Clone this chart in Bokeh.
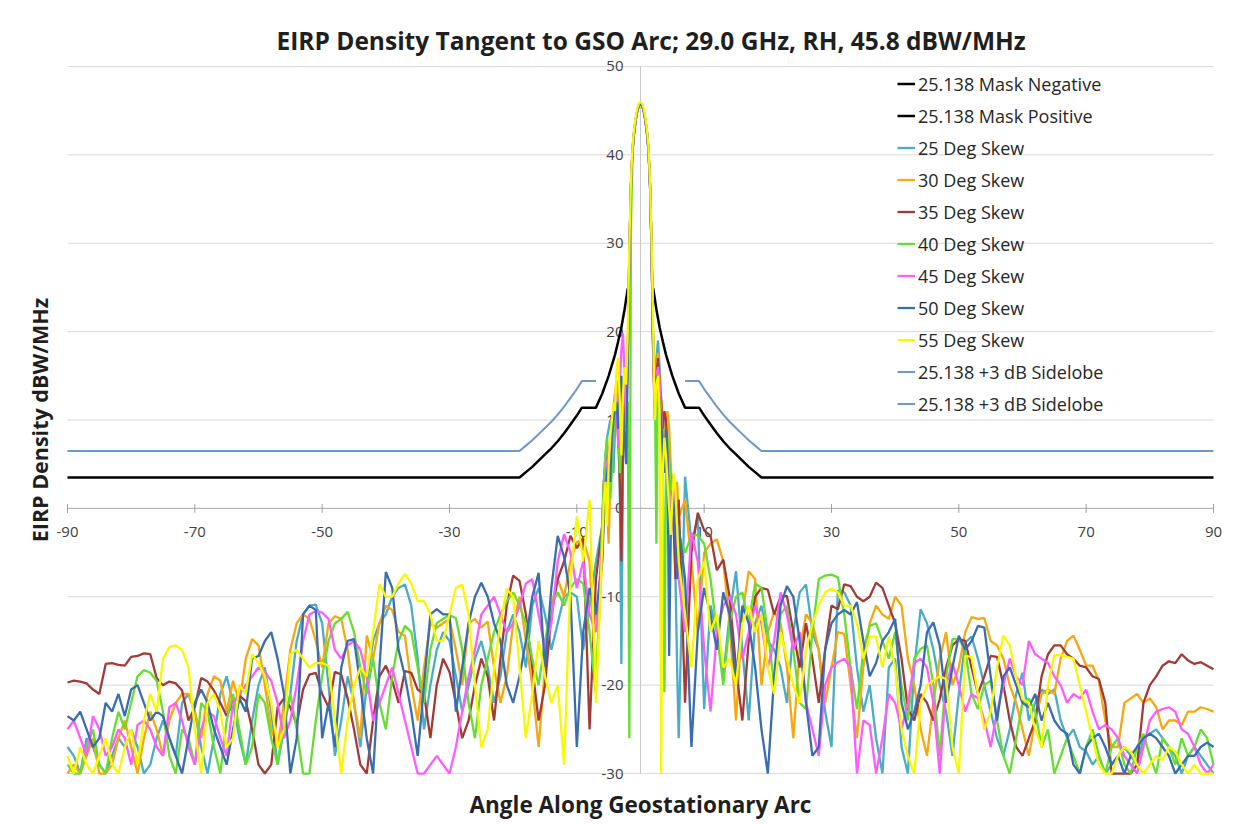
import numpy as np
from bokeh.plotting import figure
from bokeh.models import Legend, LegendItem, FixedTicker, Range1d
from bokeh.embed import file_html
from bokeh.resources import INLINE
from bokeh.core.properties import value

TITLE = "EIRP Density Tangent to GSO Arc; 29.0 GHz, RH, 45.8 dBW/MHz"
X_LABEL = "Angle Along Geostationary Arc"
Y_LABEL = "EIRP Density dBW/MHz"
X_MIN, X_MAX = -90, 90
Y_MIN, Y_MAX = -30, 50
X_TICKS = [-90, -70, -50, -30, -10, 10, 30, 50, 70, 90]
Y_TICKS = [-30, -20, -10, 0, 10, 20, 30, 40, 50]

# sample angles (deg)
ANGLES_LEFT = list(range(-90, -6))
ANGLES_CENTER = [-6 + 0.25 * i for i in range(49)]
ANGLES_RIGHT = list(range(7, 91))

# 25.138 mask (|angle|, dBW/MHz) and +3 dB sidelobe line
mask_abs_angle = [2, 2.5, 3, 3.5, 4, 5, 6, 7, 9.2, 10, 11, 12, 13, 14, 15, 16, 17, 18, 19, 90]
mask_level = [24.9, 22.5, 20.5, 18.9, 17.4, 15.0, 13.0, 11.4, 11.4, 10.5, 9.5, 8.5, 7.6,
              6.8, 6.1, 5.4, 4.7, 4.1, 3.5, 3.5]
side_abs_angle = [7, 9.2, 10, 11, 12, 13, 14, 15, 16, 17, 18, 19, 90]
side_level = [14.4, 14.4, 13.5, 12.5, 11.5, 10.6, 9.8, 9.1, 8.4, 7.7, 7.1, 6.5, 6.5]

# ---- measured skew traces (values at the -30 floor are where the trace leaves the chart) ----
skew25_left = [
    -27, -28, -30, -26, -27, -29, -30, -28, -26, -27,
    -25, -27, -30, -29, -26, -24, -26, -28, -22, -21,
    -23, -27, -30, -26, -21, -19, -22, -26, -29, -24,
    -20, -18, -23, -29, -25, -21, -15, -12, -11, -10.9,
    -13, -20, -28, -24, -19, -22, -27, -20, -15, -13,
    -12, -10, -9, -8.6, -11, -17, -25, -20, -16, -14,
    -15, -19, -23, -20, -17, -15, -18, -22, -19, -14,
    -12, -14, -18, -11, -9, -12, -16, -13, -10, -9.5,
    -10, -16, -11, -6]
skew25_center = [
    -2, 3, 6, 8, 9, 10, 8, 4,
    9, 14, 13, 2, -17.6, 5, 14, 12,
    17, 29, 36.5, 40.6, 42.6, 44, 45, 45.6,
    45.8,
    45.6, 45, 44, 42.6, 40.6, 36.5, 29, 18,
    12, 17, 19, 16, 12, 10, 8, 5,
    4, 2, 4, 3, 0, -8, -18, -26]
skew25_right = [
    3.6, -4, -1, -22.7, -11, -14, -19, -12, -7.1, -16,
    -24, -13, -11, -15, -16, -18, -22, -14, -9.5, -8.6,
    -14, -16, -23, -27, -9.3, -9.5, -11, -18, -23, -20,
    -26, -30, -18, -17, -27, -30, -18, -11.4, -13, -16,
    -20, -23, -28, -21, -15.2, -14.5, -17, -20, -23, -26,
    -28, -25, -21, -18.6, -24, -22, -20.5, -21, -20.5, -24,
    -26, -25, -27, -27.5, -29, -28, -30, -29, -28, -27,
    -28, -29, -26, -25.5, -25, -26, -27, -28, -30, -28,
    -27, -28, -29, -30]

skew30_left = [
    -30, -29, -30, -28, -26, -30, -30, -29, -26, -24,
    -27, -30, -26, -23, -25, -28, -24, -22, -21, -21,
    -23, -26, -21, -19, -19.5, -23, -19.5, -22, -17, -14.8,
    -15.5, -20, -25, -27, -22, -16, -13, -12, -12.5, -15,
    -18, -13, -12.2, -12.5, -16, -22, -26, -14.4, -17, -13,
    -11, -11.5, -14, -14.4, -20, -24, -18, -13, -13.5, -13,
    -12.5, -16, -20, -13, -12.5, -13.5, -12.8, -18, -22, -19,
    -13, -10, -15, -20, -27, -18, -11, -8, -10, -6,
    -3.8, -3.5, -6, -20]
skew30_center = [
    -5, -1, 2, 0, -4, 3, 7, 10,
    13, 14.5, 12, 6, -2, 9, 13, 11,
    17, 29, 36.5, 40.6, 42.6, 44, 45, 45.6,
    45.8,
    45.6, 45, 44, 42.6, 40.6, 36.5, 29, 17,
    12, 16, 17.6, 15, 12.5, 10, 8, 10,
    11, 9, 5, 2, -2, 1, 3, -1]
skew30_right = [
    1, -6, -14, -5, -4, -3.5, -6, -13, -24, -12,
    -7.1, -8, -20, -14, -11.7, -13, -18, -26, -16, -12,
    -13, -16, -22, -18, -14, -14.2, -20, -26, -18, -13,
    -11, -12, -12.5, -10, -11, -17, -20, -25, -28, -22,
    -17, -14, -20, -18, -14, -12.3, -12.5, -12.4, -15, -15.5,
    -17, -20, -22, -25, -28, -24, -21, -20.5, -21, -17,
    -15, -14.4, -16, -17.8, -17.8, -19.5, -24, -27, -27, -22,
    -21.5, -21, -22, -21.5, -22.5, -25, -24, -24, -24.5, -23,
    -23, -22.5, -22.7, -23]

skew35_left = [
    -19.7, -19.5, -19.6, -19.8, -20.5, -21.0, -17.6, -17.5, -17.7, -17.8,
    -16.8, -16.7, -16.4, -16.5, -19.2, -20.0, -19.6, -19.8, -20.6, -24.0,
    -22.5, -19.2, -19.6, -20.6, -22.0, -23.5, -22.0, -21.2, -21.8, -25.0,
    -29.0, -30.0, -29.0, -22.5, -21.5, -22.5, -24.5, -20.5, -18.8, -18.6,
    -21.0, -22.5, -18.5, -18.8, -21.5, -25.0, -29.0, -30.0, -24.0, -19.0,
    -17.8, -19.5, -22.0, -18.4, -18.6, -20.5, -21.0, -26.0, -20.0, -17.0,
    -18.5, -22.0, -26.0, -24.0, -20.0, -17.0, -19.0, -24.0, -17.0, -11.0,
    -7.6, -8.2, -12.0, -18.0, -24.0, -20.0, -12.0, -8.0, -6.0, -3.1,
    -4.5, -3.3, -25.0, -8.0]
skew35_center = [
    -2, 3, 5, 6, 4, 2, 6, 9,
    12, 11, 8, 3, -6, 8, 14, 10,
    18, 29, 36.5, 40.6, 42.6, 44, 45, 45.6,
    45.8,
    45.6, 45, 44, 42.6, 40.6, 36.5, 29, 17,
    10, 15, 17, 14, 12, 9, 11, 10,
    7, 5, 3, 1, -3, -8, -2, 1]
skew35_right = [
    -22, -5, -0.5, -2.5, -3.1, -7, -5.8, -10, -18, -24,
    -15, -10, -9, -9.2, -12, -10, -9.9, -14, -18, -13,
    -17, -22, -16, -11, -11.4, -8.6, -8.8, -10, -10.5, -10,
    -8.4, -9, -11, -13, -17, -22.7, -24, -21, -22, -24,
    -21.6, -18, -15.5, -14.8, -15, -18, -21, -19, -16.7, -16.8,
    -20, -24, -27, -28, -26, -24, -19, -16.5, -15.5, -15.5,
    -16.5, -17, -17.8, -18, -19, -19.3, -22, -30, -30, -30,
    -30, -29, -22, -20, -19, -17.8, -17.3, -17.5, -16.5, -17.2,
    -17.6, -17.4, -17.8, -18.2]

skew40_left = [
    -29, -30, -30, -27, -25, -29, -30, -26, -23, -25,
    -22, -19, -18.3, -18.6, -19.5, -23, -28, -30, -25, -26,
    -29, -22, -23, -27, -30, -24, -21, -25, -29, -27,
    -21, -22, -26, -29, -24, -21, -25, -30, -30, -24,
    -19, -15, -13, -12.5, -11.7, -14, -18, -21, -17, -22,
    -25, -19, -15, -13.3, -14, -18, -22, -16, -13, -12.5,
    -12.1, -12.4, -16, -22, -26, -20, -17, -14, -12, -10.5,
    -9.5, -11, -13, -17, -20, -15, -11, -9.5, -11, -9,
    -8, -8.5, -14, -21]
skew40_center = [
    -1, 3, 6, 8, 5, 1, 4, 8,
    11, 13, 10, 4, 9, 13, 15, 12,
    12, -26, 32, 40, 42.6, 44, 45, 45.6,
    45.8,
    45.6, 45, 44, 42.6, 40.6, 36.5, 29, 18,
    14, -4, 15, 12, 9, 5, -20.8, 4,
    8, 6, 3, 0, 2, -1, -6, -3]
skew40_right = [
    -5, -3.1, -3, -4, -8, -14, -20, -13, -10, -9.5,
    -13, -8.5, -9, -14, -20, -12, -11, -16, -22, -22.7,
    -14, -8, -7.6, -7.5, -7.8, -12, -18, -22.7, -16, -13.3,
    -13, -15, -17, -14, -20, -24, -17, -15.9, -15.5, -20,
    -28, -19, -14.8, -14.8, -16, -21, -22.7, -20, -19.5, -24,
    -28, -30, -26, -22, -21.5, -23, -27, -25, -30, -28,
    -26, -28, -30, -27, -25, -28, -30, -27, -26, -29,
    -30, -27, -25.5, -28, -30, -26, -27, -29, -26, -28,
    -27, -25, -26, -29]

skew45_left = [
    -25, -24, -26, -28, -23.5, -25, -28, -27, -25, -26,
    -29, -24.5, -24, -25, -27, -28, -22.5, -22, -24, -27,
    -29, -25, -23, -23.5, -26, -28, -22, -21, -20, -19,
    -18, -18.5, -19.5, -22, -26, -24, -20, -15, -12, -11.6,
    -11.8, -12.5, -16, -17, -15.5, -15, -16, -19, -24, -22,
    -20, -18, -21, -24, -27, -30, -30, -29, -28, -29,
    -30, -27, -23, -19, -16, -12, -11, -10, -12, -14,
    -13, -11, -8.5, -8, -12, -16, -13, -6, -2.9, -5,
    -9, -6, -12, -14]
skew45_center = [
    -4, 0, 3, 5, 7, 4, 8, 11,
    13, 11, 7, 14, 18, 19.8, 15, 9,
    17, 29, 36.5, 40.6, 42.6, 44, 45, 45.6,
    45.8,
    45.6, 45, 44, 42.6, 40.6, 36.5, 29, 17,
    13, 15, 16, 14, 11, 8, 5, 7,
    6, 2, -3, 0, 3, 1, -4, -8]
skew45_right = [
    -14, -2.7, -6, -16, -23, -14, -11, -10, -12, -17,
    -14, -11, -13, -18, -15, -9.5, -12, -16, -14, -22,
    -25, -28, -20, -18, -17.4, -17, -18, -30, -24, -24.5,
    -30, -26, -21, -22, -25, -22, -17.5, -17, -18, -22,
    -30, -20, -17.5, -20, -23, -21, -21.5, -24, -27, -23,
    -20, -17, -19, -20, -15, -16.5, -17, -17.5, -19, -20,
    -22, -21, -21.5, -20.5, -23, -25, -24.5, -25, -26, -28,
    -29, -30, -27, -24, -23, -22.7, -22.5, -23, -25, -25.5,
    -27, -29, -30, -29]

skew50_left = [
    -23.5, -24, -23, -25, -27, -26, -22, -23, -21, -23.5,
    -20.5, -20, -22, -24, -23, -23.5, -26, -28, -30, -26,
    -22, -20.5, -22, -25, -27, -29, -25, -21.5, -23, -17,
    -16.7, -15, -14, -17, -21, -30, -26, -12, -11, -11.5,
    -26, -22, -27, -18, -15, -14.8, -20, -26, -30, -18,
    -7.2, -9, -16, -19, -23, -28, -20, -12, -11.4, -12,
    -12, -23, -18, -13, -10, -8.4, -10, -13, -15, -20,
    -22, -19, -15, -10, -7.3, -18, -9, -3.1, -5.5, -10,
    -27, -14, -9, -12]
skew50_center = [
    -6, -1, 2, 4, 5.1, 3, 8, 10,
    11.5, 12, 9, 13, 15, 11, 8, 5,
    17, 29, 36.5, 40.6, 42.6, 44, 45, 45.6,
    45.8,
    45.6, 45, 44, 42.6, 40.6, 36.5, 29, 18,
    13, 15, 14, 12, 10, 7, 4, 9,
    6, -16.7, -3, 2, 0, -4, -8, -2]
skew50_right = [
    -8, -27, -14, -9, -12, -16, -9.5, -12, -20, -11,
    -13, -18, -25, -30, -19, -11, -8.8, -10, -15, -22,
    -28, -27, -16, -13, -12, -11.5, -12, -10.6, -15, -19,
    -17.5, -15, -14, -12.5, -22, -25, -23, -20, -14, -12.9,
    -15.5, -22, -18, -14.4, -16, -15, -13.3, -13.5, -19, -24,
    -19, -18, -20, -22, -22.5, -21, -24, -22, -24, -25,
    -25.5, -29, -30, -27, -26, -25.5, -27, -29, -28, -30,
    -28, -27, -26, -25.5, -26, -27, -28, -30, -29, -28,
    -28, -27, -26.5, -27]

skew55_left = [
    -28, -30, -27, -29, -30, -28, -26, -29, -30, -27,
    -25, -29, -24, -21, -23, -17, -15.7, -15.5, -16, -18,
    -25, -30, -22, -21, -23, -27, -26, -20, -21, -16.5,
    -17.5, -19, -22, -27, -25, -16.5, -16, -17, -18, -17.5,
    -17.5, -17.8, -24, -30, -24, -20, -18, -19, -14, -8.6,
    -10, -10, -8.5, -7.4, -8.5, -10.5, -10.5, -12, -15, -15,
    -12, -9, -8.6, -12, -20, -27, -25, -18, -13, -9.1,
    -10, -18, -26, -21, -15, -19, -22, -20, -29, -8,
    -0.9, -6, 1.0, -22]
skew55_center = [
    -4, 1, 3, -2, 5, 8, 10, 12,
    11, 16, 17, 12, 6, 13, 16, 14,
    20, 30, 37, 41, 43, 44.3, 45.3, 45.8,
    46,
    45.8, 45.3, 44.3, 43, 41, 37, 30, 20,
    10, 14, 15, 11, -30, 4, 8, 6,
    3, 0, -3, 1, 4, 2, -2, -6]
skew55_right = [
    -12, -18, -8, -6, -14, -12, -18, -17, -20, -13,
    -11, -14, -12, -18, -21, -14, -17, -20, -22, -16,
    -13, -11, -9.5, -9.1, -9.5, -11, -11, -13, -17, -14.5,
    -14.5, -18, -14.5, -18, -25, -28, -30, -22, -20, -19.5,
    -19, -19.3, -27, -30, -16.7, -16.8, -21, -25, -23, -18,
    -14.4, -15.5, -19, -21.6, -22, -25, -27, -20, -16.6, -16.6,
    -16.8, -17, -20, -23, -26, -29, -30, -30, -28, -27,
    -27.5, -29, -30, -29, -28, -28.5, -27, -27.5, -29, -30,
    -29, -30, -30, -30]

SKEWS = [
    ("25 Deg Skew", "#4BACC6", skew25_left, skew25_center, skew25_right),
    ("30 Deg Skew", "#F7A70F", skew30_left, skew30_center, skew30_right),
    ("35 Deg Skew", "#A23B37", skew35_left, skew35_center, skew35_right),
    ("40 Deg Skew", "#66DD33", skew40_left, skew40_center, skew40_right),
    ("45 Deg Skew", "#FF5CFF", skew45_left, skew45_center, skew45_right),
    ("50 Deg Skew", "#3A6DB0", skew50_left, skew50_center, skew50_right),
    ("55 Deg Skew", "#F8F800", skew55_left, skew55_center, skew55_right),
]

FONT = "Open Sans"
# plot area: 1146 x 709 px for the -90..90 / -30..50 box, plus a small margin
# inside the frame so that the edge tick labels are not clipped
PAD_PX_X, PAD_PX_Y = 14, 10
PAD_X = PAD_PX_X * (X_MAX - X_MIN) / 1146
PAD_Y = PAD_PX_Y * (Y_MAX - Y_MIN) / 709

p = figure(width=1236, height=822,
           x_range=Range1d(X_MIN - PAD_X, X_MAX + PAD_X),
           y_range=Range1d(Y_MIN - PAD_Y, Y_MAX + PAD_Y),
           output_backend="svg", toolbar_location=None,
           min_border_left=53, min_border_right=9, min_border_top=56, min_border_bottom=37)
p.outline_line_color = None
p.background_fill_color = "white"
p.border_fill_color = "white"

p.title.text = TITLE
p.title.align = "left"
p.title.offset = 223
p.title.text_font = FONT
p.title.text_font_size = "24.5px"
p.title.text_font_style = "bold"
p.title.text_color = "#1f1f1f"
p.title.standoff = 0

for ax, lab in ((p.xaxis, X_LABEL), (p.yaxis, Y_LABEL)):
    ax.ticker = FixedTicker(ticks=[])
    ax.major_label_text_font_size = "0px"
    ax.major_tick_line_color = None
    ax.minor_tick_line_color = None
    ax.major_tick_out = 0
    ax.major_tick_in = 0
    ax.major_label_standoff = 0
    ax.axis_line_color = None
    ax.axis_label = lab
    ax.axis_label_text_font = FONT
    ax.axis_label_text_font_style = "bold"
    ax.axis_label_text_color = "#1f1f1f"
p.xaxis.axis_label_text_font_size = "22.5px"
p.yaxis.axis_label_text_font_size = "21.5px"
p.xaxis.axis_label_standoff = 5
p.yaxis.axis_label_standoff = 0

p.xgrid.visible = False
p.ygrid.visible = False

# horizontal gridlines, axis lines
p.segment(x0=[X_MIN] * len(Y_TICKS), y0=Y_TICKS, x1=[X_MAX] * len(Y_TICKS), y1=Y_TICKS,
          line_color="#D9D9D9", line_width=1)
p.segment(x0=[0], y0=[Y_MIN], x1=[0], y1=[Y_MAX], line_color="#C8C8C8", line_width=1)
p.segment(x0=[X_MIN], y0=[0], x1=[X_MAX], y1=[0], line_color="#B0B0B0", line_width=1)
p.scatter(x=X_TICKS, y=[0] * len(X_TICKS), marker="dash", size=9, angle=np.pi / 2,
          line_color="#A0A0A0", line_width=1)

# tick labels (drawn under the traces, like the original)
p.text(x=X_TICKS, y=[0] * len(X_TICKS), text=[str(v) for v in X_TICKS],
       text_align="center", text_baseline="top", y_offset=19,
       text_font=value(FONT), text_font_size="15px", text_color="#404040")
p.text(x=[0] * len(Y_TICKS), y=Y_TICKS, text=[str(v) for v in Y_TICKS],
       text_align="right", text_baseline="middle", x_offset=-17,
       text_font=value(FONT), text_font_size="15px", text_color="#404040")

items = []
neg_x = [-a for a in reversed(mask_abs_angle)]
neg_y = list(reversed(mask_level))
r = p.line(neg_x, neg_y, line_color="black", line_width=2.5)
items.append(LegendItem(label="25.138 Mask Negative", renderers=[r]))
r = p.line(mask_abs_angle, mask_level, line_color="black", line_width=2.5)
items.append(LegendItem(label="25.138 Mask Positive", renderers=[r]))

for name, color, lft, ctr, rgt in SKEWS:
    assert len(lft) == len(ANGLES_LEFT), (name, len(lft))
    assert len(ctr) == len(ANGLES_CENTER), (name, len(ctr))
    assert len(rgt) == len(ANGLES_RIGHT), (name, len(rgt))
    xs = ANGLES_LEFT + ANGLES_CENTER + ANGLES_RIGHT
    ys = lft + ctr + rgt
    r = p.line(xs, ys, line_color=color, line_width=2.3)
    items.append(LegendItem(label=name, renderers=[r]))

sneg_x = [-a for a in reversed(side_abs_angle)]
sneg_y = list(reversed(side_level))
r = p.line(sneg_x, sneg_y, line_color="#7097CC", line_width=2)
items.append(LegendItem(label="25.138 +3 dB Sidelobe", renderers=[r]))
r = p.line(side_abs_angle, side_level, line_color="#7097CC", line_width=2)
items.append(LegendItem(label="25.138 +3 dB Sidelobe", renderers=[r]))

legend = Legend(items=items, location=(844, 367), padding=0, margin=0, spacing=7,
                label_height=25, glyph_height=25, glyph_width=18, label_standoff=3,
                label_text_font=FONT, label_text_font_size="18px", label_text_color="#262626",
                background_fill_alpha=0, border_line_color=None)
p.add_layout(legend)

open("out.html", "w").write(file_html(p, INLINE))
